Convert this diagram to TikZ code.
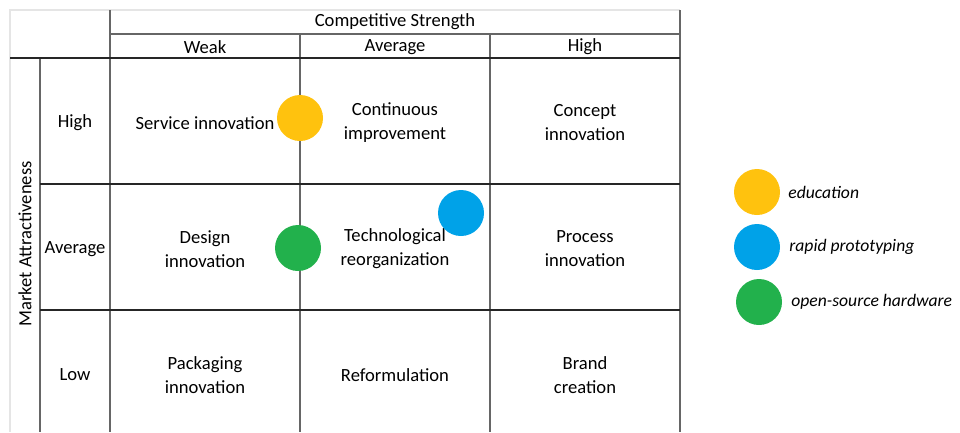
\documentclass[tikz,border=0pt]{standalone}
\usepackage{fontspec}
\setmainfont{Carlito}
\usepackage{tikz}
\usetikzlibrary{positioning}

\definecolor{eduyellow}{HTML}{FFC20E}
\definecolor{protoblue}{HTML}{00A2E8}
\definecolor{hwgreen}{HTML}{22B14C}

\begin{document}
\begin{tikzpicture}[%
  x=1pt,
  y=-1pt,
  font=\fontsize{18.6}{24}\selectfont,
  hline/.style={black!85, line width=1.1pt},
  vline/.style={black!60, line width=1.1pt},
  pale/.style={black!10, line width=1.1pt},
  cell/.style={align=center, inner sep=0pt},
  dot/.style={circle, fill=#1, minimum size=46pt, inner sep=0pt},
  keytext/.style={anchor=west, inner sep=0pt, font=\fontsize{17.6}{24}\selectfont\itshape}
  ]
  \useasboundingbox (0,0) rectangle (960,432);
  %% Grid
  \draw[pale] (10,432) -- (10,10) -- (680,10);
  \draw[vline] (110,10) -- (110,432);
  \draw[vline] (680,10) -- (680,432);
  \draw[vline] (40,58) -- (40,432);
  \draw[vline] (300,34) -- (300,432);
  \draw[vline] (490,34) -- (490,432);
  \draw[vline] (110,34) -- (680,34);
  \draw[hline] (10,58) -- (680,58);
  \draw[hline] (40,184) -- (680,184);
  \draw[hline] (40,310) -- (680,310);
  %% Headings
  \node[cell] (cs) at (395,22) {Competitive Strength};
  \node[cell] (weak) at (205,47) {Weak};
  \node[cell] (avg) at (395,47) {Average};
  \node[cell] (strong) at (585,47) {High};
  \node[cell, rotate=90] (ma) at (25,244) {Market Attractiveness};
  \node[cell] (rhigh) at (75,123) {High};
  \node[cell] (ravg) at (75,249) {Average};
  \node[cell] (rlow) at (75,375) {Low};
  %% Cells
  \node[cell] (service) at (205,123) {Service innovation};
  \node[cell] (contin) at (395,123) {Continuous\\improvement};
  \node[cell] (concept) at (585,123) {Concept\\innovation};
  \node[cell] (design) at (205,249) {Design\\innovation};
  \node[cell] (techno) at (395,249) {Technological\\reorganization};
  \node[cell] (process) at (585,249) {Process\\innovation};
  \node[cell] (pack) at (205,375) {Packaging\\innovation};
  \node[cell] (reform) at (395,375) {Reformulation};
  \node[cell] (brand) at (585,375) {Brand\\creation};
  %% Dots
  \node[dot=eduyellow] (edu) at (300,118) {};
  \node[dot=protoblue] (proto) at (461,213) {};
  \node[dot=hwgreen] (hw) at (298,248) {};
  %% Key
  \node[dot=eduyellow] (k1) at (757,192) {};
  \node[dot=protoblue] (k2) at (757,247) {};
  \node[dot=hwgreen] (k3) at (759,302) {};
  \node[keytext, right=8pt of k1] {education};
  \node[keytext, right=9pt of k2] {rapid prototyping};
  \node[keytext, right=9pt of k3] {open-source hardware};
\end{tikzpicture}
\end{document}
